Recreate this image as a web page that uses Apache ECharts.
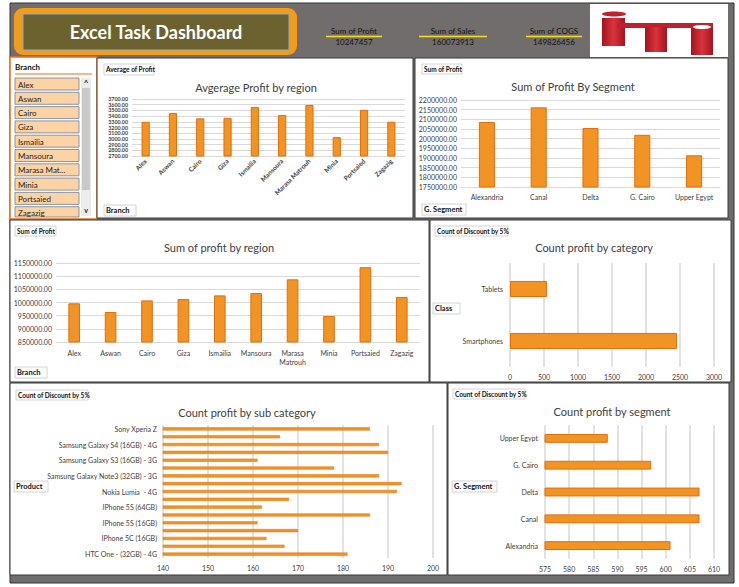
<!DOCTYPE html>
<html><head><meta charset="utf-8">
<script src="https://cdn.jsdelivr.net/npm/echarts@6/dist/echarts.min.js"></script>
<style>html,body{margin:0;padding:0;background:#fff}#c{width:739px;height:587px}</style>
</head><body><div id="c"></div>
<script>
// ---------- data ----------
const kpiLabels = ['Sum of Profit', 'Sum of Sales', 'Sum of COGS'];
const kpiValues = ['10247457', '160073913', '149826456'];
const branches = ['Alex','Aswan','Cairo','Giza','Ismailia','Mansoura','Marasa Matrouh','Minia','Portsaied','Zagazig'];
const slicerItems = ['Alex','Aswan','Cairo','Giza','Ismailia','Mansoura','Marasa Mat...','Minia','Portsaied','Zagazig'];
const avgProfit = [3300, 3455, 3360, 3370, 3560, 3420, 3595, 3030, 3510, 3300];
const segments = ['Alexandria','Canal','Delta','G. Cairo','Upper Egypt'];
const segmentProfit = [2086000, 2162000, 2055000, 2020000, 1914000];
const regionProfit = [997000, 964000, 1008000, 1013000, 1027000, 1036000, 1088000, 949000, 1134000, 1021000];
const classes = ['Smartphones', 'Tablets'];
const classCount = [2457, 543];
const products = ['HTC One - (32GB) - 4G','IPad Air (16GB)','IPhone 5C (16GB)','IPhone 5C (32GB)','IPhone 5S (16GB)','IPhone 5S (32GB)','IPhone 5S (64GB)','Nokia Lumia - 3G','Nokia Lumia  - 4G','Samsung Galaxy Note3 (16GB) - 3G','Samsung Galaxy Note3 (32GB) - 3G','Samsung Galaxy Note3 (32GB) - 4G','Samsung Galaxy S3 (16GB) - 3G','Samsung Galaxy S3 (32GB) - 3G','Samsung Galaxy S4 (16GB) - 4G','Samsung Galaxy Tab 3','Sony Xperia Z'];
const productCount = [181, 167, 163, 170, 161, 186, 162, 168, 192, 193, 188, 178, 161, 190, 188, 166, 186];
const segmentCount = [601, 607, 607, 597, 588];
const avgTicks = {min: 2700, max: 3700, step: 100};
const segTicks = {min: 1750000, max: 2200000, step: 50000};
const regTicks = {min: 850000, max: 1150000, step: 50000};
const catTicks = {min: 0, max: 3000, step: 500};
const prodTicks = {min: 140, max: 200, step: 10};
const segCntTicks = {min: 575, max: 610, step: 5};

// ---------- style ----------
const FF = 'Lato, "DejaVu Sans", sans-serif';
const BAR = {color: '#f29423', borderColor: '#e46c0a', borderWidth: 1};
const AX = '#404040';
const GRIDC = '#d9d9d9';
const GRAY = '#716d6d';

const chart = echarts.init(document.getElementById('c'), null, {renderer: 'svg'});

function txt(x, y, text, size, opts) {
  opts = opts || {};
  return {type: 'text', z: opts.z || 20, style: {x, y, text, fill: opts.fill || '#222', fontSize: size, fontFamily: opts.ff || FF,
    fontWeight: opts.fw || 'normal', textAlign: opts.align || 'left', textVerticalAlign: 'middle'}};
}
function rect(x, y, w, h, fill, stroke, lw, z, r) {
  return {type: 'rect', z: z || 1, shape: {x, y, width: w, height: h, r: r || 0}, style: {fill, stroke: stroke || null, lineWidth: lw || 0}};
}
function tagBox(x, y, w, h, text, size) {
  return [rect(x, y, w, h, '#fff', '#c8c8c8', 0.8, 15), txt(x + 2, y + h / 2, text, size, {fw: 'bold', fill: '#111'})];
}

const g = [];
// outer frame
g.push(rect(10, 3, 724, 580, GRAY, '#333', 1, 0));
// title box
g.push(rect(14, 8, 283, 47, '#f39c1a', null, 0, 2, 9));
g.push(rect(23, 14, 266, 36, '#6b6230', '#7fb2d8', 1, 3));
g.push(txt(156, 32, 'Excel Task Dashboard', 18, {fill: '#fff', fw: 'bold', align: 'center'}));
// KPIs
const kpiX = [354, 453, 554];
const kpiW = [56, 68, 56];
kpiLabels.forEach((l, i) => {
  g.push(txt(kpiX[i], 31, l, 8, {align: 'center', fill: '#111'}));
  g.push({type: 'line', z: 5, shape: {x1: kpiX[i] - kpiW[i] / 2, y1: 36.5, x2: kpiX[i] + kpiW[i] / 2, y2: 36.5}, style: {stroke: '#f5e11a', lineWidth: 1.5}});
  g.push(txt(kpiX[i], 42, kpiValues[i], 8, {align: 'center', fill: '#111'}));
});
// logo
g.push(rect(590, 4, 138, 53, '#fff', null, 0, 2));
const red = {type: 'linear', x: 0, y: 0, x2: 1, y2: 0, colorStops: [{offset: 0, color: '#a5141e'}, {offset: 0.5, color: '#d8343c'}, {offset: 1, color: '#a5141e'}]};
g.push({type: 'ellipse', z: 4, shape: {cx: 614, cy: 14, rx: 12, ry: 2.5}, style: {fill: '#c0202a'}});
g.push(rect(602, 18, 23, 28, red, null, 0, 4));
g.push(rect(617, 23, 96, 5, '#c0202a', null, 0, 4));
g.push(rect(645, 27, 22, 25, red, null, 0, 4));
g.push(rect(691, 28, 22, 27, red, null, 0, 4));
g.push({type: 'ellipse', z: 5, shape: {cx: 702, cy: 27, rx: 9, ry: 2}, style: {fill: '#fff'}});

// panels
g.push(rect(10, 57, 87, 162, '#fff', '#e8701f', 1.5, 1));
g.push(rect(97, 58, 316, 160, '#fff', '#3a3a3a', 1, 1));
g.push(rect(415, 58, 313, 160, '#fff', '#3a3a3a', 1, 1));
g.push(rect(10, 220, 419, 162, '#fff', '#3a3a3a', 1, 1));
g.push(rect(430, 220, 301, 162, '#fff', '#3a3a3a', 1, 1));
g.push(rect(10, 383, 437, 192, '#fff', '#3a3a3a', 1, 1));
g.push(rect(448, 383, 281, 192, '#fff', '#3a3a3a', 1, 1));

// slicer
g.push(txt(15, 67, 'Branch', 8, {fw: 'bold', fill: '#111'}));
g.push({type: 'line', z: 5, shape: {x1: 15, y1: 74, x2: 92, y2: 74}, style: {stroke: '#e8701f', lineWidth: 1}});
slicerItems.forEach((s, i) => {
  const y = 78 + i * 14.3;
  const h = Math.min(12, 217 - y);
  if (h <= 0) return;
  g.push(rect(15, y, 64, h, '#fcd3a4', '#6f7f99', 0.8, 5));
  if (h > 6) g.push(txt(18, y + 6.5, s, 8, {fill: '#222', z: 6}));
});
g.push(rect(81, 78, 10, 138, '#ececec', null, 0, 5));
g.push(rect(82, 88, 8, 102, '#c9c9c9', null, 0, 6));
g.push(txt(86, 83, '^', 8, {align: 'center', fw: 'bold', z: 7}));
g.push(txt(86, 210, 'v', 7, {align: 'center', fw: 'bold', z: 7}));

// small tag boxes
g.push(...tagBox(104, 64, 50, 11, 'Average of Profit', 6.5));
g.push(...tagBox(104, 205, 32, 11, 'Branch', 7.5));
g.push(...tagBox(422, 64, 40, 10, 'Sum of Profit', 6.5));
g.push(...tagBox(422, 204, 44, 11, 'G. Segment', 7.5));
g.push(...tagBox(15, 226, 41, 10, 'Sum of Profit', 6.5));
g.push(...tagBox(15, 367, 32, 11, 'Branch', 7.5));
g.push(...tagBox(435, 226, 73, 10, 'Count of Discount by 5%', 6.5));
g.push(...tagBox(433, 303, 27, 11, 'Class', 7.5));
g.push(...tagBox(16, 390, 72, 10, 'Count of Discount by 5%', 6.5));
g.push(...tagBox(14, 481, 34, 11, 'Product', 7.5));
g.push(...tagBox(453, 389, 72, 10, 'Count of Discount by 5%', 6.5));
g.push(...tagBox(452, 481, 45, 11, 'G. Segment', 7.5));

// chart titles
const titles = [[256, 87, 'Avgerage Profit by region'], [573, 86, 'Sum of Profit By Segment'], [219, 247, 'Sum of profit by region'],
  [594, 247, 'Count profit by category'], [247, 412, 'Count profit by sub category'], [612, 411, 'Count profit by segment']];
titles.forEach(t => g.push(txt(t[0], t[1], t[2], 11, {align: 'center', fill: '#404040'})));

const lbl = {color: AX, fontSize: 7, fontFamily: FF};
const plain = v => String(v);
function valAxis(gi, t, fmt, extra) {
  return Object.assign({type: 'value', gridIndex: gi, min: t.min, max: t.max, interval: t.step, z: 10,
    axisLine: {show: false}, axisTick: {show: false},
    splitLine: {lineStyle: {color: GRIDC, width: 1}},
    axisLabel: Object.assign({}, lbl, {formatter: fmt || plain, margin: 4, showMinLabel: true, showMaxLabel: true, hideOverlap: false})}, extra || {});
}
function catAxis(gi, data, extra) {
  return Object.assign({type: 'category', gridIndex: gi, data, axisTick: {show: false}, z: 10,
    axisLine: {lineStyle: {color: GRIDC}}, axisLabel: Object.assign({}, lbl, {interval: 0})}, extra || {});
}
const f2 = v => v.toFixed(2);
const hx = {margin: 6, formatter: plain, showMinLabel: true, showMaxLabel: true};

const option = {
  animation: false,
  graphic: {elements: g},
  grid: [
    {left: 132, top: 99, width: 273, height: 57},
    {left: 461, top: 100, width: 259, height: 87},
    {left: 56, top: 263, width: 364, height: 79},
    {left: 510, top: 263, width: 204, height: 104},
    {left: 163, top: 425, width: 270, height: 133},
    {left: 545, top: 425, width: 169, height: 134}
  ],
  xAxis: [
    catAxis(0, branches, {axisLabel: Object.assign({}, lbl, {interval: 0, rotate: 45, margin: 4, fontWeight: 'bold', fontSize: 6.5})}),
    catAxis(1, segments, {axisLabel: Object.assign({}, lbl, {interval: 0, margin: 6})}),
    catAxis(2, branches, {axisLabel: Object.assign({}, lbl, {interval: 0, margin: 6, lineHeight: 9, formatter: v => v.replace(' ', '\n')})}),
    valAxis(3, catTicks, null, {splitLine: {lineStyle: {color: GRIDC, width: 1.5}}, axisLabel: Object.assign({}, lbl, hx)}),
    valAxis(4, prodTicks, null, {splitLine: {lineStyle: {color: GRIDC, width: 1.5}}, axisLabel: Object.assign({}, lbl, hx)}),
    valAxis(5, segCntTicks, null, {splitLine: {lineStyle: {color: GRIDC, width: 1.5}}, axisLabel: Object.assign({}, lbl, hx)})
  ],
  yAxis: [
    valAxis(0, avgTicks, f2, {axisLabel: Object.assign({}, lbl, {formatter: f2, margin: 4, fontWeight: 'bold', fontSize: 5.3, lineHeight: 5.3, showMinLabel: true, showMaxLabel: true, hideOverlap: false})}),
    valAxis(1, segTicks, f2),
    valAxis(2, regTicks, f2),
    catAxis(3, classes, {axisLine: {show: false}, axisLabel: Object.assign({}, lbl, {margin: 7})}),
    catAxis(4, products, {axisLine: {show: false}, axisLabel: Object.assign({}, lbl, {interval: 1, margin: 6})}),
    catAxis(5, segments, {axisLine: {show: false}, axisLabel: Object.assign({}, lbl, {margin: 7})})
  ],
  series: [
    {type: 'bar', z: 12, xAxisIndex: 0, yAxisIndex: 0, data: avgProfit, barWidth: '30%', itemStyle: BAR},
    {type: 'bar', z: 12, xAxisIndex: 1, yAxisIndex: 1, data: segmentProfit, barWidth: '31%', itemStyle: BAR},
    {type: 'bar', z: 12, xAxisIndex: 2, yAxisIndex: 2, data: regionProfit, barWidth: '32%', itemStyle: BAR},
    {type: 'bar', z: 12, xAxisIndex: 3, yAxisIndex: 3, data: classCount, barWidth: '31%', itemStyle: BAR},
    {type: 'bar', z: 12, xAxisIndex: 4, yAxisIndex: 4, data: productCount, barWidth: '40%', itemStyle: {color: '#f29423', borderColor: '#e46c0a', borderWidth: 0.5}},
    {type: 'bar', z: 12, xAxisIndex: 5, yAxisIndex: 5, data: segmentCount, barWidth: '33%', itemStyle: BAR}
  ]
};
chart.setOption(option);
</script></body></html>
